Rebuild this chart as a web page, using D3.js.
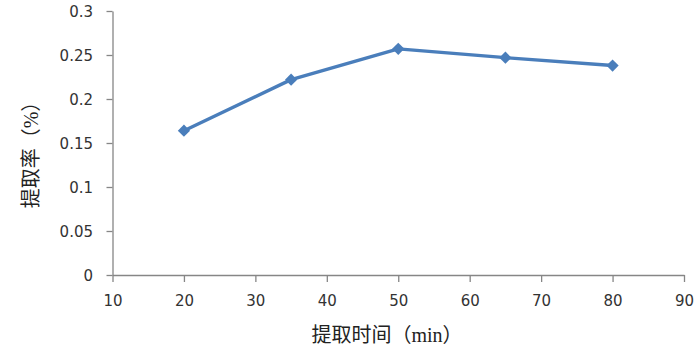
<!DOCTYPE html>
<html><head><meta charset="utf-8">
<script src="https://cdn.jsdelivr.net/npm/d3@7"></script>
<style>body{margin:0;background:#fff}svg{display:block}</style>
</head><body>
<svg id="c" width="698" height="349"></svg>
<script>
const times = [20, 35, 50, 65, 80];
const yields = [0.164, 0.222, 0.257, 0.247, 0.238];
const xTicks = [10, 20, 30, 40, 50, 60, 70, 80, 90];
const yTicks = [0, 0.05, 0.1, 0.15, 0.2, 0.25, 0.3];
const xTitle = "提取时间（min）";
const yTitle = "提取率（%）";

const svg = d3.select("#c");
const x = d3.scaleLinear().domain([10, 90]).range([112.5, 684]);
const y = d3.scaleLinear().domain([0, 0.3]).range([275, 11]);
const axisColor = "#868686";
const labelFont = "'DejaVu Sans', Verdana, sans-serif";

const gx = svg.append("g").attr("transform", "translate(0,275)")
  .call(d3.axisBottom(x).tickValues(xTicks).tickSize(7).tickSizeOuter(0).tickFormat(d3.format("d")));
const gy = svg.append("g").attr("transform", "translate(112.5,0)")
  .call(d3.axisLeft(y).tickValues(yTicks).tickSize(6).tickSizeOuter(0).tickFormat(d => String(+d.toFixed(2))));
[gx, gy].forEach(g => {
  g.select(".domain").attr("stroke", axisColor).attr("stroke-width", 1.3);
  g.selectAll(".tick line").attr("stroke", axisColor).attr("stroke-width", 1.3);
  g.selectAll(".tick text").attr("fill", "#333").attr("font-size", 15)
    .attr("font-family", labelFont);
});
gx.selectAll(".tick text").attr("dy", "0").attr("y", 31);
gy.selectAll(".tick text").attr("x", -19.5).attr("dy", "0.35em");

svg.append("path").datum(times.map((t, i) => [t, yields[i]]))
  .attr("fill", "none").attr("stroke", "#4a7ebb").attr("stroke-width", 3.4)
  .attr("stroke-linejoin", "round")
  .attr("d", d3.line().x(d => x(d[0])).y(d => y(d[1])));

svg.selectAll(".m").data(times).enter().append("path")
  .attr("transform", (d, i) => `translate(${x(d)},${y(yields[i])})`)
  .attr("d", d3.symbol(d3.symbolDiamond2, 95)())
  .attr("fill", "#4a7ebb");

svg.append("text").attr("x", 387).attr("y", 342).attr("text-anchor", "middle")
  .attr("font-size", 20).attr("fill", "#222")
  .attr("font-family", "'Liberation Serif', 'Noto Sans CJK SC', serif").text(xTitle);
svg.append("text").attr("transform", "translate(38,150) rotate(-90)").attr("text-anchor", "middle")
  .attr("font-size", 20).attr("fill", "#222")
  .attr("font-family", "'Liberation Serif', 'Noto Sans CJK SC', serif").text(yTitle);
</script>
</body></html>
